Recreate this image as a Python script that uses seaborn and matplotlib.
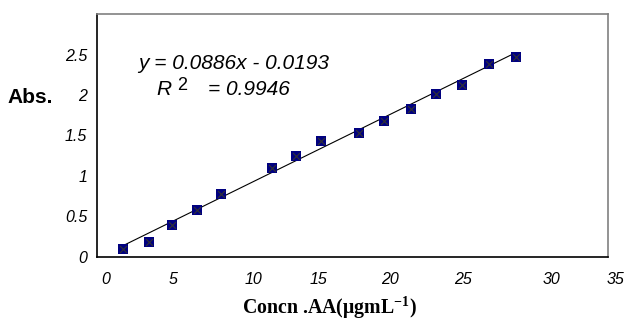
import numpy as np
import pandas as pd
import seaborn as sns
import matplotlib.pyplot as plt
from matplotlib.transforms import ScaledTranslation

# Calibration data
concn = [1.75, 3.5, 5.1, 6.85, 8.5, 12.0, 13.65, 15.3, 17.95, 19.65, 21.5, 23.2, 25.0, 26.85, 28.7]
absorb = [0.095, 0.18, 0.39, 0.58, 0.78, 1.10, 1.24, 1.43, 1.53, 1.68, 1.83, 2.01, 2.12, 2.38, 2.47]
slope = 0.0886
intercept = -0.0193
r2 = 0.9946

df = pd.DataFrame({'concn': concn, 'abs': absorb})
line_x = np.array([min(concn), max(concn)])
line_df = pd.DataFrame({'concn': line_x, 'abs': slope * line_x + intercept})

sns.set_style('white')
plt.rcParams['font.family'] = ['Liberation Sans', 'DejaVu Sans']
plt.rcParams['text.color'] = 'black'
plt.rcParams['mathtext.fontset'] = 'custom'
plt.rcParams['mathtext.rm'] = 'Liberation Serif:bold'
plt.rcParams['mathtext.it'] = 'Liberation Serif:bold'
plt.rcParams['mathtext.bf'] = 'Liberation Serif:bold'

fig = plt.figure(figsize=(6.27, 3.2), dpi=100)
ax = fig.add_axes([0.1555, 0.198, 0.8137, 0.758])

sns.lineplot(data=line_df, x='concn', y='abs', color='black', linewidth=0.8, ax=ax)
sns.scatterplot(data=df, x='concn', y='abs', marker='s', s=60, color='#000080',
                edgecolor='#000080', linewidth=0, ax=ax, zorder=3)
sns.scatterplot(data=df, x='concn', y='abs', marker='x', s=25, color='#333333',
                linewidth=0.8, ax=ax, zorder=4)

ax.set_xlim(0, 35)
ax.set_ylim(0, 3)
ax.set_xticks(range(0, 36, 5))
ax.set_yticks([0, 0.5, 1, 1.5, 2, 2.5])
ax.set_yticklabels(['0', '0.5', '1', '1.5', '2', '2.5'])

for side in ['left', 'bottom']:
    ax.spines[side].set_color('black')
    ax.spines[side].set_linewidth(1.2)
for side in ['top', 'right']:
    ax.spines[side].set_color('#808080')
    ax.spines[side].set_linewidth(1.2)

ax.tick_params(axis='both', direction='out', length=3, width=1, color='black',
               labelsize=11.5, labelcolor='black')
ax.tick_params(axis='x', pad=8)
ax.tick_params(axis='y', pad=4.5)
for lab in ax.get_xticklabels() + ax.get_yticklabels():
    lab.set_fontstyle('italic')
# Excel-like uneven nudges of the x tick labels (pixels)
x_nudge = [8.5, 2.5, 10, 2, 1, 1, 17, 8]
for lab, dx in zip(ax.get_xticklabels(), x_nudge):
    lab.set_transform(lab.get_transform() + ScaledTranslation(dx / 100, 0, fig.dpi_scale_trans))

ax.set_xlabel('')
ax.set_ylabel('')
fig.text(0.526, 0.02, 'Concn .AA(\u03bcgmL$^{-1}$)', fontsize=14.3, fontweight='bold',
         family='Liberation Serif', ha='center', va='baseline')
fig.text(0.012, 0.695, 'Abs.', fontsize=15, fontweight='bold', va='center', ha='left')

fig.text(0.220, 0.784, f'y = {slope}x - {abs(intercept)}', fontsize=15,
         style='italic', va='baseline')
fig.text(0.250, 0.703, 'R', fontsize=15, style='italic', va='baseline')
fig.text(0.282, 0.719, '2', fontsize=13, va='baseline')
fig.text(0.332, 0.703, f'= {r2}', fontsize=15, style='italic', va='baseline')

plt.savefig('out.png', dpi=100)
